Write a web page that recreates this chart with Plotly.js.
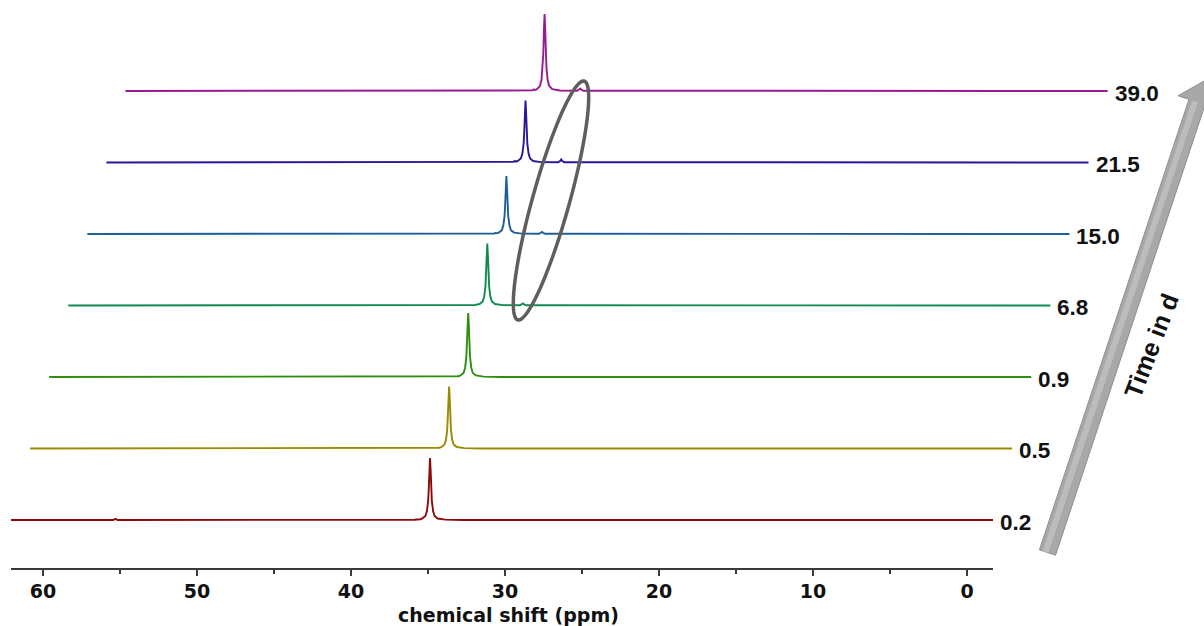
<!DOCTYPE html>
<html>
<head>
<meta charset="utf-8">
<script src="https://cdn.plot.ly/plotly-3.0.1.min.js"></script>
<style>html,body{margin:0;padding:0;background:#fff;}#chart{width:1204px;height:626px;}</style>
</head>
<body>
<div id="chart"></div>
<script>
// ---- data ----
const timeLabels = ['0.2', '0.5', '0.9', '6.8', '15.0', '21.5', '39.0'];
const traceColors = ['#8c0a0a', '#9a8a00', '#2e8f0e', '#118a4e', '#1c5f96', '#2d1599', '#971a8f'];
// chemical shift sample points (ppm)
const ppm = [62.08, 55.45, 55.3, 55.15, 35.9, 35.65, 35.57, 35.49, 35.37, 35.17, 35.07, 34.99, 34.95, 34.91,
             34.87, 34.83, 34.79, 34.75, 34.67, 34.57, 34.37, 33.87, 32.75, 32.62, 32.55, 32.48, 32.35, -1.69];
// intensities (a.u.)
const int_0_2  = [0, 0, 1.2, 0, 0.3, 0.5, 0.7, 0.8, 1.5, 4, 9, 19, 31, 50, 62, 50, 31, 19, 9, 4, 1.5, 0.4, 0, 0, 0, 0, 0, 0];
const int_0_5  = [0, 0, 0, 0, 0.3, 0.5, 0.7, 0.8, 1.5, 4, 9, 19, 31, 50, 62, 50, 31, 19, 9, 4, 1.5, 0.4, 0, 0, 0, 0, 0, 0];
const int_0_9  = [0, 0, 0, 0, 0.3, 0.5, 0.7, 0.8, 1.6, 4.1, 9.3, 20, 32, 52, 64, 52, 32, 20, 9.3, 4.1, 1.6, 0.4, 0, 0, 0, 0, 0, 0];
const int_6_8  = [0, 0, 0, 0, 0.3, 0.5, 0.8, 0.8, 1.5, 4, 9, 19, 31, 50, 62, 50, 31, 19, 9, 4, 1.5, 0.4, 0.2, 1, 2, 1, 0.2, 0];
const int_15_0 = [0, 0, 0, 0, 0.3, 0.5, 1.2, 0.7, 1.4, 3.7, 8.4, 18, 29, 46, 58, 46, 29, 18, 8.4, 3.7, 1.4, 0.4, 0.2, 1, 2, 1, 0.2, 0];
const int_21_5 = [0, 0, 0, 0, 0.3, 0.6, 1.5, 0.8, 1.5, 4, 9, 19, 31, 50, 62, 50, 31, 19, 9, 4, 1.5, 0.4, 0.3, 1.4, 3, 1.4, 0.3, 0];
const int_39_0 = [0, 0, 0, 0, 0.4, 0.6, 1.6, 1, 1.9, 5, 11, 24, 38, 62, 77, 62, 38, 24, 11, 5, 1.9, 0.5, 0.3, 1.2, 2.5, 1.2, 0.3, 0];
const intensities = [int_0_2, int_0_5, int_0_9, int_6_8, int_15_0, int_21_5, int_39_0];
const tickVals = [60, 50, 40, 30, 20, 10, 0];
const tickText = ['60', '50', '40', '30', '20', '10', '0'];

// ---- layout geometry (stacked-plot offsets) ----
const W = 1204, PH = 568;
const shiftPpm = 1.24;   // horizontal offset per spectrum
const shiftY = 71.5;     // vertical offset per spectrum

const traces = intensities.map((vals, k) => ({
  type: 'scatter', mode: 'lines',
  x: ppm.map(v => v - k * shiftPpm),
  y: vals.map(v => v + k * shiftY),
  xaxis: k === 0 ? 'x' : 'x2', yaxis: k === 0 ? 'y' : 'y2',
  line: {color: traceColors[k], width: 1.9},
  hoverinfo: 'skip', showlegend: false
}));

const annotations = timeLabels.map((t, k) => ({
  xref: 'x2', yref: 'y2',
  x: ppm[ppm.length - 1] - k * shiftPpm, y: k * shiftY,
  text: t, showarrow: false, xanchor: 'left', yanchor: 'middle',
  xshift: 5, yshift: -2,
  font: {family: 'Liberation Sans, Arial, sans-serif', size: 22.5, weight: 'bold', color: '#111'}
}));

function P(px, py) { return [(px / W).toFixed(5), ((PH - py) / PH).toFixed(5)]; }
function pathFrom(pts) { return 'M' + pts.map(p => P(p[0], p[1]).join(',')).join(' L') + ' Z'; }

// arrow
const B = [1047.5, 552.5], u = [0.315, -0.949], n = [0.949, 0.315];
const hw = 8.5, L = 474.7;
const C = [B[0] + L * u[0], B[1] + L * u[1]];
const add = (p, v, s) => [p[0] + v[0] * s, p[1] + v[1] * s];
const arrowPts = [add(B, n, -hw), add(C, n, -hw), add(C, n, -20), add(C, u, 22), add(C, n, 20), add(C, n, hw), add(B, n, hw)];
const hiPts = [add(B, n, -5), add(C, n, -5), add(C, n, 1), add(B, n, 1)];

// ellipse
const ec = [551, 200.5], eu = [0.268, -0.963], ev = [0.963, 0.268], ea = 124, eb = 18.5;
const ellPts = [];
for (let i = 0; i < 96; i++) {
  const t = i / 96 * 2 * Math.PI;
  ellPts.push([ec[0] + ea * Math.cos(t) * eu[0] + eb * Math.sin(t) * ev[0],
               ec[1] + ea * Math.cos(t) * eu[1] + eb * Math.sin(t) * ev[1]]);
}

const shapes = [
  {type: 'path', xref: 'paper', yref: 'paper', path: pathFrom(arrowPts), fillcolor: '#a8a8a8', line: {color: '#8e8e8e', width: 1}, layer: 'above'},
  {type: 'path', xref: 'paper', yref: 'paper', path: pathFrom(hiPts), fillcolor: '#bcbcbc', line: {width: 0}, layer: 'above'},
  {type: 'path', xref: 'paper', yref: 'paper', path: pathFrom(ellPts), fillcolor: 'rgba(0,0,0,0)', line: {color: '#5e5e5e', width: 3.5}, layer: 'above'}
];

annotations.push({
  xref: 'paper', yref: 'paper', x: 1151 / W, y: (PH - 346) / PH,
  text: 'Time in d', showarrow: false, textangle: -69, xanchor: 'center', yanchor: 'middle',
  font: {family: 'Liberation Sans, Arial, sans-serif', size: 25, weight: 'bold', color: '#111'}
});
annotations.push({
  xref: 'paper', yref: 'paper', x: 508 / W, y: (PH - 615) / PH,
  text: 'chemical shift (ppm)', showarrow: false, xanchor: 'center', yanchor: 'middle',
  font: {family: 'DejaVu Sans, Verdana, sans-serif', size: 19, weight: 'bold', color: '#111'}
});

const pxToPpm = px => (967 - px) / 15.4;

const layout = {
  width: 1204, height: 626,
  margin: {l: 0, r: 0, t: 0, b: 626 - PH, pad: 0},
  paper_bgcolor: '#fff', plot_bgcolor: 'rgba(0,0,0,0)',
  showlegend: false,
  xaxis: {
    domain: [11 / W, 993 / W], range: [pxToPpm(11), pxToPpm(993)], anchor: 'y',
    showgrid: false, zeroline: false, showline: true, linecolor: '#3a3a3a', linewidth: 1.5,
    ticks: 'outside', ticklen: 6, tickwidth: 1.5, tickcolor: '#3a3a3a',
    tickmode: 'array', tickvals: tickVals, ticktext: tickText, ticklabelstandoff: 0,
    tickfont: {family: 'DejaVu Sans, Verdana, sans-serif', size: 19, weight: 'bold', color: '#111'},
    minor: {tickmode: 'linear', tick0: 0, dtick: 5, ticks: 'outside', ticklen: 4, tickwidth: 1.2, tickcolor: '#3a3a3a', showgrid: false},
    automargin: false, fixedrange: true
  },
  yaxis: {domain: [0, 1], range: [-48, 520], anchor: 'x', fixedrange: true,
          showgrid: false, zeroline: false, showline: false, showticklabels: false, ticks: ''},
  xaxis2: {domain: [0, 1], range: [pxToPpm(0), pxToPpm(W)], anchor: 'y2', visible: false, fixedrange: true},
  yaxis2: {domain: [0, 1], range: [-48, 520], anchor: 'x2', visible: false, fixedrange: true},
  shapes: shapes,
  annotations: annotations
};

Plotly.newPlot('chart', traces, layout, {staticPlot: true, displayModeBar: false});
</script>
</body>
</html>
